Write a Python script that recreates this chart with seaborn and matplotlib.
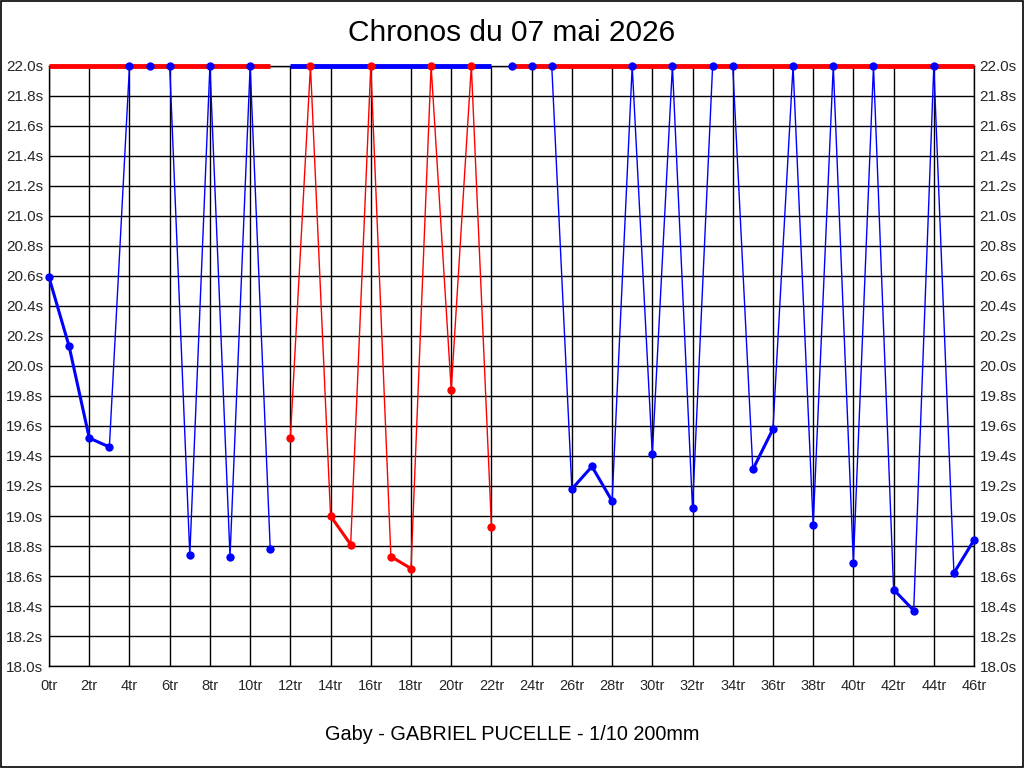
import numpy as np
import matplotlib
matplotlib.use('Agg')
import matplotlib.pyplot as plt
import seaborn as sns

sns.set_theme(style='white')
plt.rcParams['font.family'] = ['Liberation Sans', 'DejaVu Sans']

# données des chronos (tours / temps en secondes, plafonnés à 22.0s)
laps_1 = [0, 1, 2, 3, 4, 5, 6, 7, 8, 9, 10, 11]
times_1 = [20.59, 20.13, 19.52, 19.46, 22.0, 22.0, 22.0, 18.74, 22.0, 18.73, 22.0, 18.78]

laps_2 = [12, 13, 14, 15, 16, 17, 18, 19, 20, 21, 22]
times_2 = [19.52, 22.0, 19.0, 18.81, 22.0, 18.73, 18.65, 22.0, 19.84, 22.0, 18.93]

laps_3 = [23, 24, 25, 26, 27, 28, 29, 30, 31, 32, 33, 34, 35, 36, 37, 38,
          39, 40, 41, 42, 43, 44, 45, 46]
times_3 = [22.0, 22.0, 22.0, 19.18, 19.33, 19.10, 22.0, 19.41, 22.0, 19.05,
           22.0, 22.0, 19.31, 19.58, 22.0, 18.94, 22.0, 18.69, 22.0, 18.51,
           18.37, 22.0, 18.62, 18.84]

stints = [(laps_1, times_1, 'blue', 'red'),
          (laps_2, times_2, 'red', 'blue'),
          (laps_3, times_3, 'blue', 'red')]

y_max = 22.0
y_ticks = np.round(np.arange(18.0, 22.01, 0.2), 1)
x_ticks = list(range(0, 47, 2))

fig = plt.figure(figsize=(10.24, 7.68), dpi=100)
ax = fig.add_axes([0.0479, 0.1328, 0.9033, 0.7813])

for laps, times, col, top_col in stints:
    t = np.array(times)
    # ligne fine qui relie tous les tours
    sns.lineplot(x=laps, y=times, color=col, linewidth=1, sort=False,
                 estimator=None, ax=ax, zorder=3)
    # ligne épaisse entre deux tours sous le plafond
    low = np.where(t < y_max, t, np.nan)
    ax.plot(laps, low, color=col, linewidth=2.2, zorder=4)
    # barre du plafond pour le relais
    ax.plot([laps[0], laps[-1]], [y_max, y_max], color=top_col,
            linewidth=3.5, zorder=5, clip_on=False, solid_capstyle='butt')
    ax.scatter(laps, times, color=col, s=36, linewidths=0, zorder=6,
               clip_on=False)

ax.set_xlim(0, 46)
ax.set_ylim(18.0, 22.0)
ax.set_xticks(x_ticks)
ax.set_xticklabels([f'{v}tr' for v in x_ticks], fontsize=10.5)
ax.set_yticks(y_ticks)
ax.set_yticklabels([f'{v:.1f}s' for v in y_ticks], fontsize=11)
ax.tick_params(axis='y', labelright=True, length=0, pad=4)
ax.tick_params(axis='x', length=0, pad=9)
ax.grid(True, color='black', linewidth=1)
ax.set_axisbelow(True)
for side in ax.spines.values():
    side.set_color('black')
    side.set_linewidth(1)
ax.set_xlabel('')
ax.set_ylabel('')

fig.text(0.5, 0.957, 'Chronos du 07 mai 2026', ha='center', va='center',
         fontsize=21.5, color='black')
fig.text(0.5, 0.043, 'Gaby - GABRIEL PUCELLE - 1/10 200mm', ha='center',
         va='center', fontsize=14.3, color='black')

# cadre autour de l'image
fig.patches.append(plt.Rectangle((0.0005, 0.0007), 0.999, 0.9986,
                                 transform=fig.transFigure, fill=False,
                                 edgecolor='black', linewidth=1.2))

plt.savefig('out.png', dpi=100)
plt.close()
